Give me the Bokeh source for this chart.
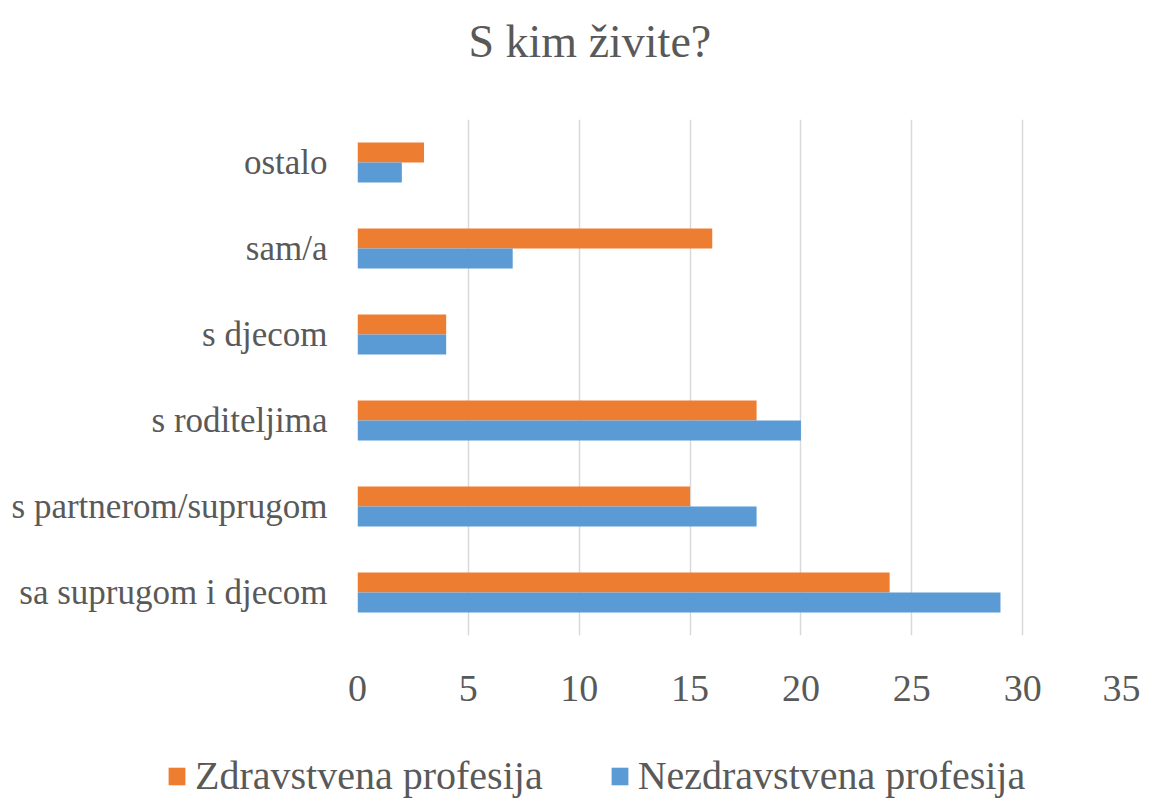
from bokeh.plotting import figure
from bokeh.models import FactorRange, FixedTicker, Legend, LegendItem, ColumnDataSource
from bokeh.transform import dodge
from bokeh.embed import file_html
from bokeh.resources import INLINE

categories = ["sa suprugom i djecom", "s partnerom/suprugom", "s roditeljima",
              "s djecom", "sam/a", "ostalo"]
zdravstvena = [24, 15, 18, 4, 16, 3]
nezdravstvena = [29, 18, 20, 4, 7, 2]
x_ticks = [0, 5, 10, 15, 20, 25, 30, 35]
series_names = ["Zdravstvena profesija", "Nezdravstvena profesija"]
series_colors = ["#ED7D31", "#5B9BD5"]
title_text = "S kim živite?"

TEXT = "#595959"
FONT = "'Liberation Serif', 'Times New Roman', serif"

src = ColumnDataSource(dict(cat=categories, z=zdravstvena, n=nezdravstvena))

# --- title strip (separate root) ---
p0 = figure(width=1140, height=119, output_backend="svg", toolbar_location=None,
            x_axis_location=None, y_axis_location=None,
            min_border_left=0, min_border_right=0, min_border_top=0, min_border_bottom=0)
p0.grid.visible = False
p0.outline_line_color = None
p0.title.text = title_text
p0.title.align = "left"
p0.title.offset = 468
p0.title.text_font = FONT
p0.title.text_font_size = "46px"
p0.title.text_font_style = "normal"
p0.title.text_color = TEXT
p0.title.standoff = 27

# --- main chart ---
p = figure(width=1140, height=592, y_range=FactorRange(*categories), x_range=(0, 35),
           output_backend="svg", toolbar_location=None,
           min_border_left=357, min_border_right=7, min_border_top=0, min_border_bottom=76)

p.hbar(y=dodge("cat", 0.116, range=p.y_range), right="z", left=0, height=0.232,
       source=src, fill_color=series_colors[0], line_color=None)
p.hbar(y=dodge("cat", -0.116, range=p.y_range), right="n", left=0, height=0.232,
       source=src, fill_color=series_colors[1], line_color=None)

p.outline_line_color = None
p.ygrid.grid_line_color = None
p.xgrid.grid_line_color = "#d9d9d9"
p.xgrid.grid_line_width = 1.5

p.xaxis.ticker = FixedTicker(ticks=x_ticks)
p.xaxis.axis_line_color = None
p.xaxis.major_tick_line_color = None
p.xaxis.minor_tick_line_color = None
p.xaxis.major_label_text_font = FONT
p.xaxis.major_label_text_font_size = "38px"
p.xaxis.major_label_text_color = TEXT
p.xaxis.major_label_standoff = 34

p.yaxis.axis_line_color = None
p.yaxis.major_tick_line_color = None
p.yaxis.minor_tick_line_color = None
p.yaxis.major_label_text_font = FONT
p.yaxis.major_label_text_font_size = "35px"
p.yaxis.major_label_text_color = TEXT
p.yaxis.major_label_standoff = 24

# --- legend strip (separate root, so its frame is not aligned with p) ---
p2 = figure(width=1140, height=88, y_range=FactorRange(*categories), x_range=(0, 35),
            output_backend="svg", toolbar_location=None,
            min_border_left=0, min_border_right=0, min_border_top=0, min_border_bottom=0,
            x_axis_location=None, y_axis_location=None)
p2.grid.visible = False
p2.outline_line_color = None
items = []
for name, col, field in zip(series_names, series_colors, ["z", "n"]):
    r = p2.hbar(y="cat", right=field, left=0, height=0.5, source=src,
                fill_color=col, line_color=None, visible=False)
    items.append(LegendItem(label=name, renderers=[r]))

legend = Legend(items=items, orientation="horizontal", location=(166, 0),
                label_text_font=FONT, label_text_font_size="40px", label_text_color=TEXT,
                glyph_width=21, glyph_height=22, spacing=66, padding=0, margin=0,
                label_standoff=8, border_line_color=None, background_fill_alpha=0)
p2.add_layout(legend, "center")

open("out.html", "w").write(file_html([p0, p, p2], INLINE))
